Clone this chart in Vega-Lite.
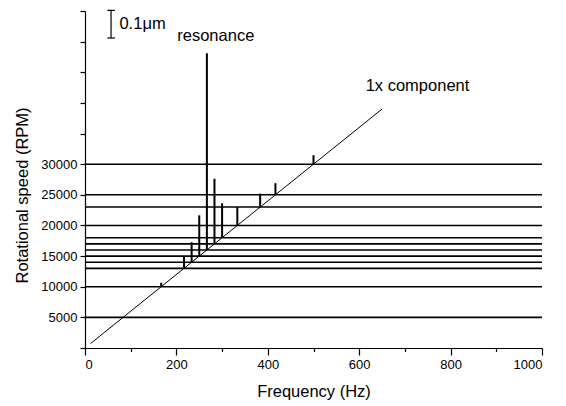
{
  "$schema": "https://vega.github.io/schema/vega-lite/v6.json",
  "width": 457,
  "height": 337,
  "autosize": {"type": "none"},
  "padding": {"left": 85, "top": 11, "right": 24, "bottom": 58},
  "background": "white",
  "config": {
    "view": {"stroke": null},
    "font": "Liberation Sans",
    "axis": {
      "grid": false,
      "domainColor": "black",
      "domainWidth": 1.2,
      "tickColor": "black",
      "tickWidth": 1.2,
      "labelColor": "black",
      "titleColor": "black",
      "labelFont": "Liberation Sans",
      "titleFont": "Liberation Sans",
      "labelFontSize": 13,
      "titleFontSize": 16.5,
      "titleFontWeight": "normal",
      "labelOverlap": false,
      "labelBound": false
    },
    "axisY": {
      "tickSize": 5,
      "labelPadding": 3,
      "titleAngle": -90,
      "titleX": -63,
      "titleY": 184,
      "titleAlign": "center",
      "titleBaseline": "middle"
    },
    "axisX": {
      "labelPadding": 3,
      "titleY": 43,
      "titleBaseline": "middle"
    },
    "text": {"font": "Liberation Sans", "fontSize": 16.5, "color": "black"}
  },
  "datasets": {
    "speeds": [
      {"speed": 5000}, {"speed": 10000}, {"speed": 13000}, {"speed": 14000},
      {"speed": 15000}, {"speed": 16000}, {"speed": 17000}, {"speed": 18000},
      {"speed": 20000}, {"speed": 23000}, {"speed": 25000}, {"speed": 30000}
    ],
    "spikes": [
      {"freq": 166.7, "speed": 10000, "top": 10650},
      {"freq": 216.7, "speed": 13000, "top": 14850},
      {"freq": 233.3, "speed": 14000, "top": 17270},
      {"freq": 250, "speed": 15000, "top": 21650},
      {"freq": 266.7, "speed": 16000, "top": 48100},
      {"freq": 283.3, "speed": 17000, "top": 27620},
      {"freq": 300, "speed": 18000, "top": 23620},
      {"freq": 333.3, "speed": 20000, "top": 22990},
      {"freq": 383.3, "speed": 23000, "top": 25190},
      {"freq": 416.7, "speed": 25000, "top": 26900},
      {"freq": 500, "speed": 30000, "top": 31470}
    ],
    "diag": [
      {"freq": 12, "speed": 720},
      {"freq": 650, "speed": 39000}
    ],
    "scalebar": [
      {"fa": 57, "fb": 57, "ra": 50600, "rb": 55100},
      {"fa": 48.8, "fb": 65.6, "ra": 55100, "rb": 55100},
      {"fa": 48.8, "fb": 65.6, "ra": 50600, "rb": 50600}
    ],
    "notes": [
      {"freq": 125.9, "speed": 52830, "label": "0.1μm"},
      {"freq": 286.2, "speed": 50870, "label": "resonance"},
      {"freq": 727.6, "speed": 42750, "label": "1x component"}
    ]
  },
  "layer": [
    {
      "data": {"name": "speeds"},
      "mark": {"type": "rule", "color": "black", "strokeWidth": 1.6},
      "encoding": {
        "y": {
          "field": "speed",
          "type": "quantitative",
          "scale": {"domain": [0, 55000], "nice": false, "zero": true},
          "axis": {
            "title": "Rotational speed (RPM)",
            "values": [0, 5000, 10000, 15000, 20000, 25000, 30000, 35000, 40000, 45000, 50000, 55000],
            "tickCount": 30,
            "labelExpr": "datum.value > 0 && datum.value <= 30000 ? format(datum.value, 'd') : ''",
            "labelOverlap": false
          }
        }
      }
    },
    {
      "data": {"name": "spikes"},
      "mark": {"type": "rule", "color": "black", "strokeWidth": 2},
      "encoding": {
        "x": {
          "field": "freq",
          "type": "quantitative",
          "scale": {"domain": [0, 1000], "nice": false},
          "axis": {
            "title": "Frequency (Hz)",
            "values": [0, 100, 200, 300, 400, 500, 600, 700, 800, 900, 1000],
            "tickCount": 30,
            "labelExpr": "datum.value % 200 === 0 ? format(datum.value, 'd') : ''",
            "labelOverlap": false,
            "tickSize": {"condition": {"test": "datum.value % 200 === 0", "value": 7}, "value": 3.5}
          }
        },
        "y": {
          "field": "speed",
          "type": "quantitative",
          "axis": {
            "title": "Rotational speed (RPM)",
            "values": [0, 5000, 10000, 15000, 20000, 25000, 30000, 35000, 40000, 45000, 50000, 55000],
            "tickCount": 30,
            "labelExpr": "datum.value > 0 && datum.value <= 30000 ? format(datum.value, 'd') : ''",
            "labelOverlap": false
          }
        },
        "y2": {"field": "top"}
      }
    },
    {
      "data": {"name": "diag"},
      "mark": {"type": "line", "color": "black", "strokeWidth": 1},
      "encoding": {
        "x": {"field": "freq", "type": "quantitative"},
        "y": {"field": "speed", "type": "quantitative"}
      }
    },
    {
      "data": {"name": "scalebar"},
      "mark": {"type": "rule", "color": "black", "strokeWidth": 1.2},
      "encoding": {
        "x": {"field": "fa", "type": "quantitative"},
        "x2": {"field": "fb"},
        "y": {"field": "ra", "type": "quantitative"},
        "y2": {"field": "rb"}
      }
    },
    {
      "data": {"name": "notes"},
      "mark": {"type": "text", "baseline": "middle", "align": "center"},
      "encoding": {
        "x": {"field": "freq", "type": "quantitative"},
        "y": {"field": "speed", "type": "quantitative"},
        "text": {"field": "label"}
      }
    }
  ]
}
